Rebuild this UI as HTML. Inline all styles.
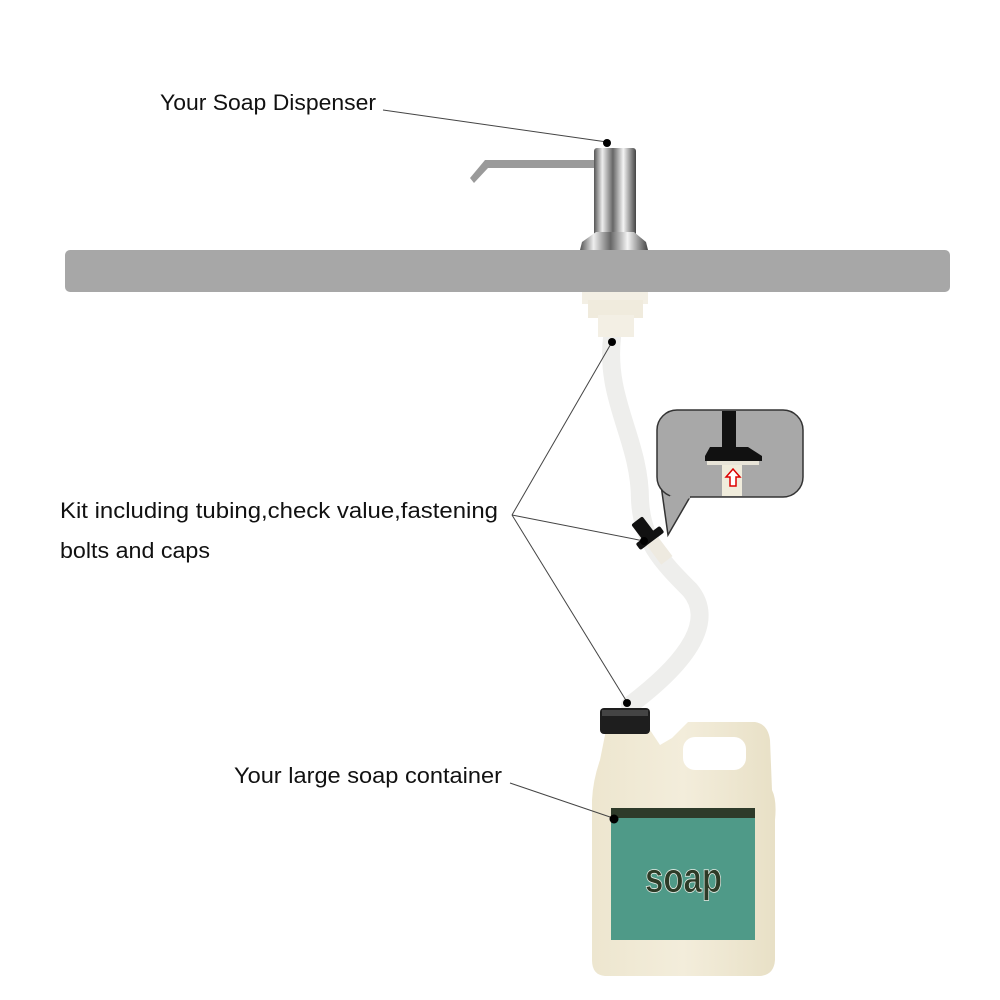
<!DOCTYPE html>
<html><head><style>
html,body{margin:0;padding:0;background:#fff;}
svg{display:block;}
text{font-family:"Liberation Sans",sans-serif;}
</style></head><body>
<svg width="1000" height="1000" viewBox="0 0 1000 1000" xmlns="http://www.w3.org/2000/svg">
<defs>
<linearGradient id="chrome" x1="0" x2="1">
<stop offset="0" stop-color="#555"/><stop offset="0.2" stop-color="#eee"/><stop offset="0.45" stop-color="#666"/><stop offset="0.7" stop-color="#f4f4f4"/><stop offset="1" stop-color="#444"/>
</linearGradient>
<linearGradient id="jug" x1="0" x2="1">
<stop offset="0" stop-color="#ede6cf"/><stop offset="0.5" stop-color="#f3eddb"/><stop offset="1" stop-color="#e8e0c6"/>
</linearGradient>
</defs>
<!-- tube -->
<path d="M612,338 C605,400 640,440 640,500 C642,540 660,560 690,590 C715,620 690,660 630,705" fill="none" stroke="#eeeeec" stroke-width="18" stroke-linecap="round"/>
<!-- counter -->
<rect x="65" y="250" width="885" height="42" rx="5" fill="#a7a7a7"/>
<!-- dispenser -->
<path d="M598,160 L485,160 L470,178 L474,183 L488,168 L598,168 Z" fill="#9a9a9a"/>
<rect x="594" y="148" width="42" height="90" rx="3" fill="url(#chrome)"/>
<path d="M596,232 L634,232 L646,242 L648,250 L580,250 L582,242 Z" fill="url(#chrome)"/>
<!-- mount under counter -->
<rect x="582" y="292" width="66" height="12" fill="#f3efe4"/>
<rect x="588" y="300" width="55" height="18" fill="#f0ebdd"/>
<rect x="598" y="315" width="36" height="22" fill="#f3efe4"/>
<!-- check valve -->
<g transform="rotate(53 650 538)">
<rect x="628" y="531" width="20" height="14" rx="2" fill="#111"/>
<rect x="646" y="523" width="8" height="30" rx="2" fill="#111"/>
<rect x="654" y="531" width="24" height="14" fill="#eeeae0"/>
</g>
<!-- inset -->
<path d="M660,478 L668,535 L690,497" fill="#a8a8a8" stroke="#333" stroke-width="1.5"/>
<rect x="657" y="410" width="146" height="87" rx="20" fill="#a8a8a8" stroke="#333" stroke-width="1.5"/>
<path d="M670,497 L690,497" stroke="#a8a8a8" stroke-width="3"/>
<rect x="722" y="411" width="14" height="36" fill="#111"/>
<path d="M710,447 L748,447 L762,456 L762,461 L705,461 L705,456 Z" fill="#111"/>
<rect x="707" y="461" width="52" height="4" fill="#e8e4d8"/>
<rect x="722" y="465" width="20" height="31" fill="#f0ecdc"/>
<path d="M733,469 L740,477 L736,477 L736,486 L730,486 L730,477 L726,477 Z" fill="#fff" stroke="#d00" stroke-width="1.5"/>
<!-- jug -->
<path d="M606,730 L650,730 L660,745 L672,738 L688,722 L755,722 Q768,724 770,740 L772,790 Q777,800 775,820 L775,960 Q774,975 760,976 L605,976 Q592,975 592,960 L592,800 Q593,780 600,760 Z" fill="url(#jug)"/>
<rect x="683" y="737" width="63" height="33" rx="12" fill="#fff"/>
<rect x="600" y="708" width="50" height="26" rx="4" fill="#1e1e1e"/>
<rect x="602" y="710" width="46" height="6" fill="#444"/>
<rect x="611" y="808" width="144" height="132" fill="#4f9a88"/>
<rect x="611" y="808" width="144" height="10" fill="#2e3b2a"/>
<text x="645" y="892" font-size="42" font-weight="bold" fill="#2d3b27" stroke="#e8efe8" stroke-width="0.8" textLength="77" lengthAdjust="spacingAndGlyphs">soap</text>
<!-- leader lines -->
<g stroke="#444" stroke-width="1" fill="none">
<line x1="383" y1="110" x2="607" y2="142"/>
<line x1="512" y1="515" x2="612" y2="342"/>
<line x1="512" y1="515" x2="644" y2="541"/>
<line x1="512" y1="515" x2="627" y2="702"/>
<line x1="510" y1="783" x2="613" y2="818"/>
</g>
<g fill="#000">
<circle cx="607" cy="143" r="4"/>
<circle cx="612" cy="342" r="4"/>
<circle cx="644" cy="541" r="4"/>
<circle cx="627" cy="703" r="4"/>
<circle cx="614" cy="819" r="4.5"/>
</g>
<!-- labels -->
<text x="160" y="110" font-size="22" fill="#111" textLength="216" lengthAdjust="spacingAndGlyphs">Your Soap Dispenser</text>
<text x="60" y="518" font-size="22" fill="#111" textLength="438" lengthAdjust="spacingAndGlyphs">Kit including tubing,check value,fastening</text>
<text x="60" y="558" font-size="22" fill="#111" textLength="150" lengthAdjust="spacingAndGlyphs">bolts and caps</text>
<text x="234" y="783" font-size="22" fill="#111" textLength="268" lengthAdjust="spacingAndGlyphs">Your large soap container</text>
</svg>
</body></html>
